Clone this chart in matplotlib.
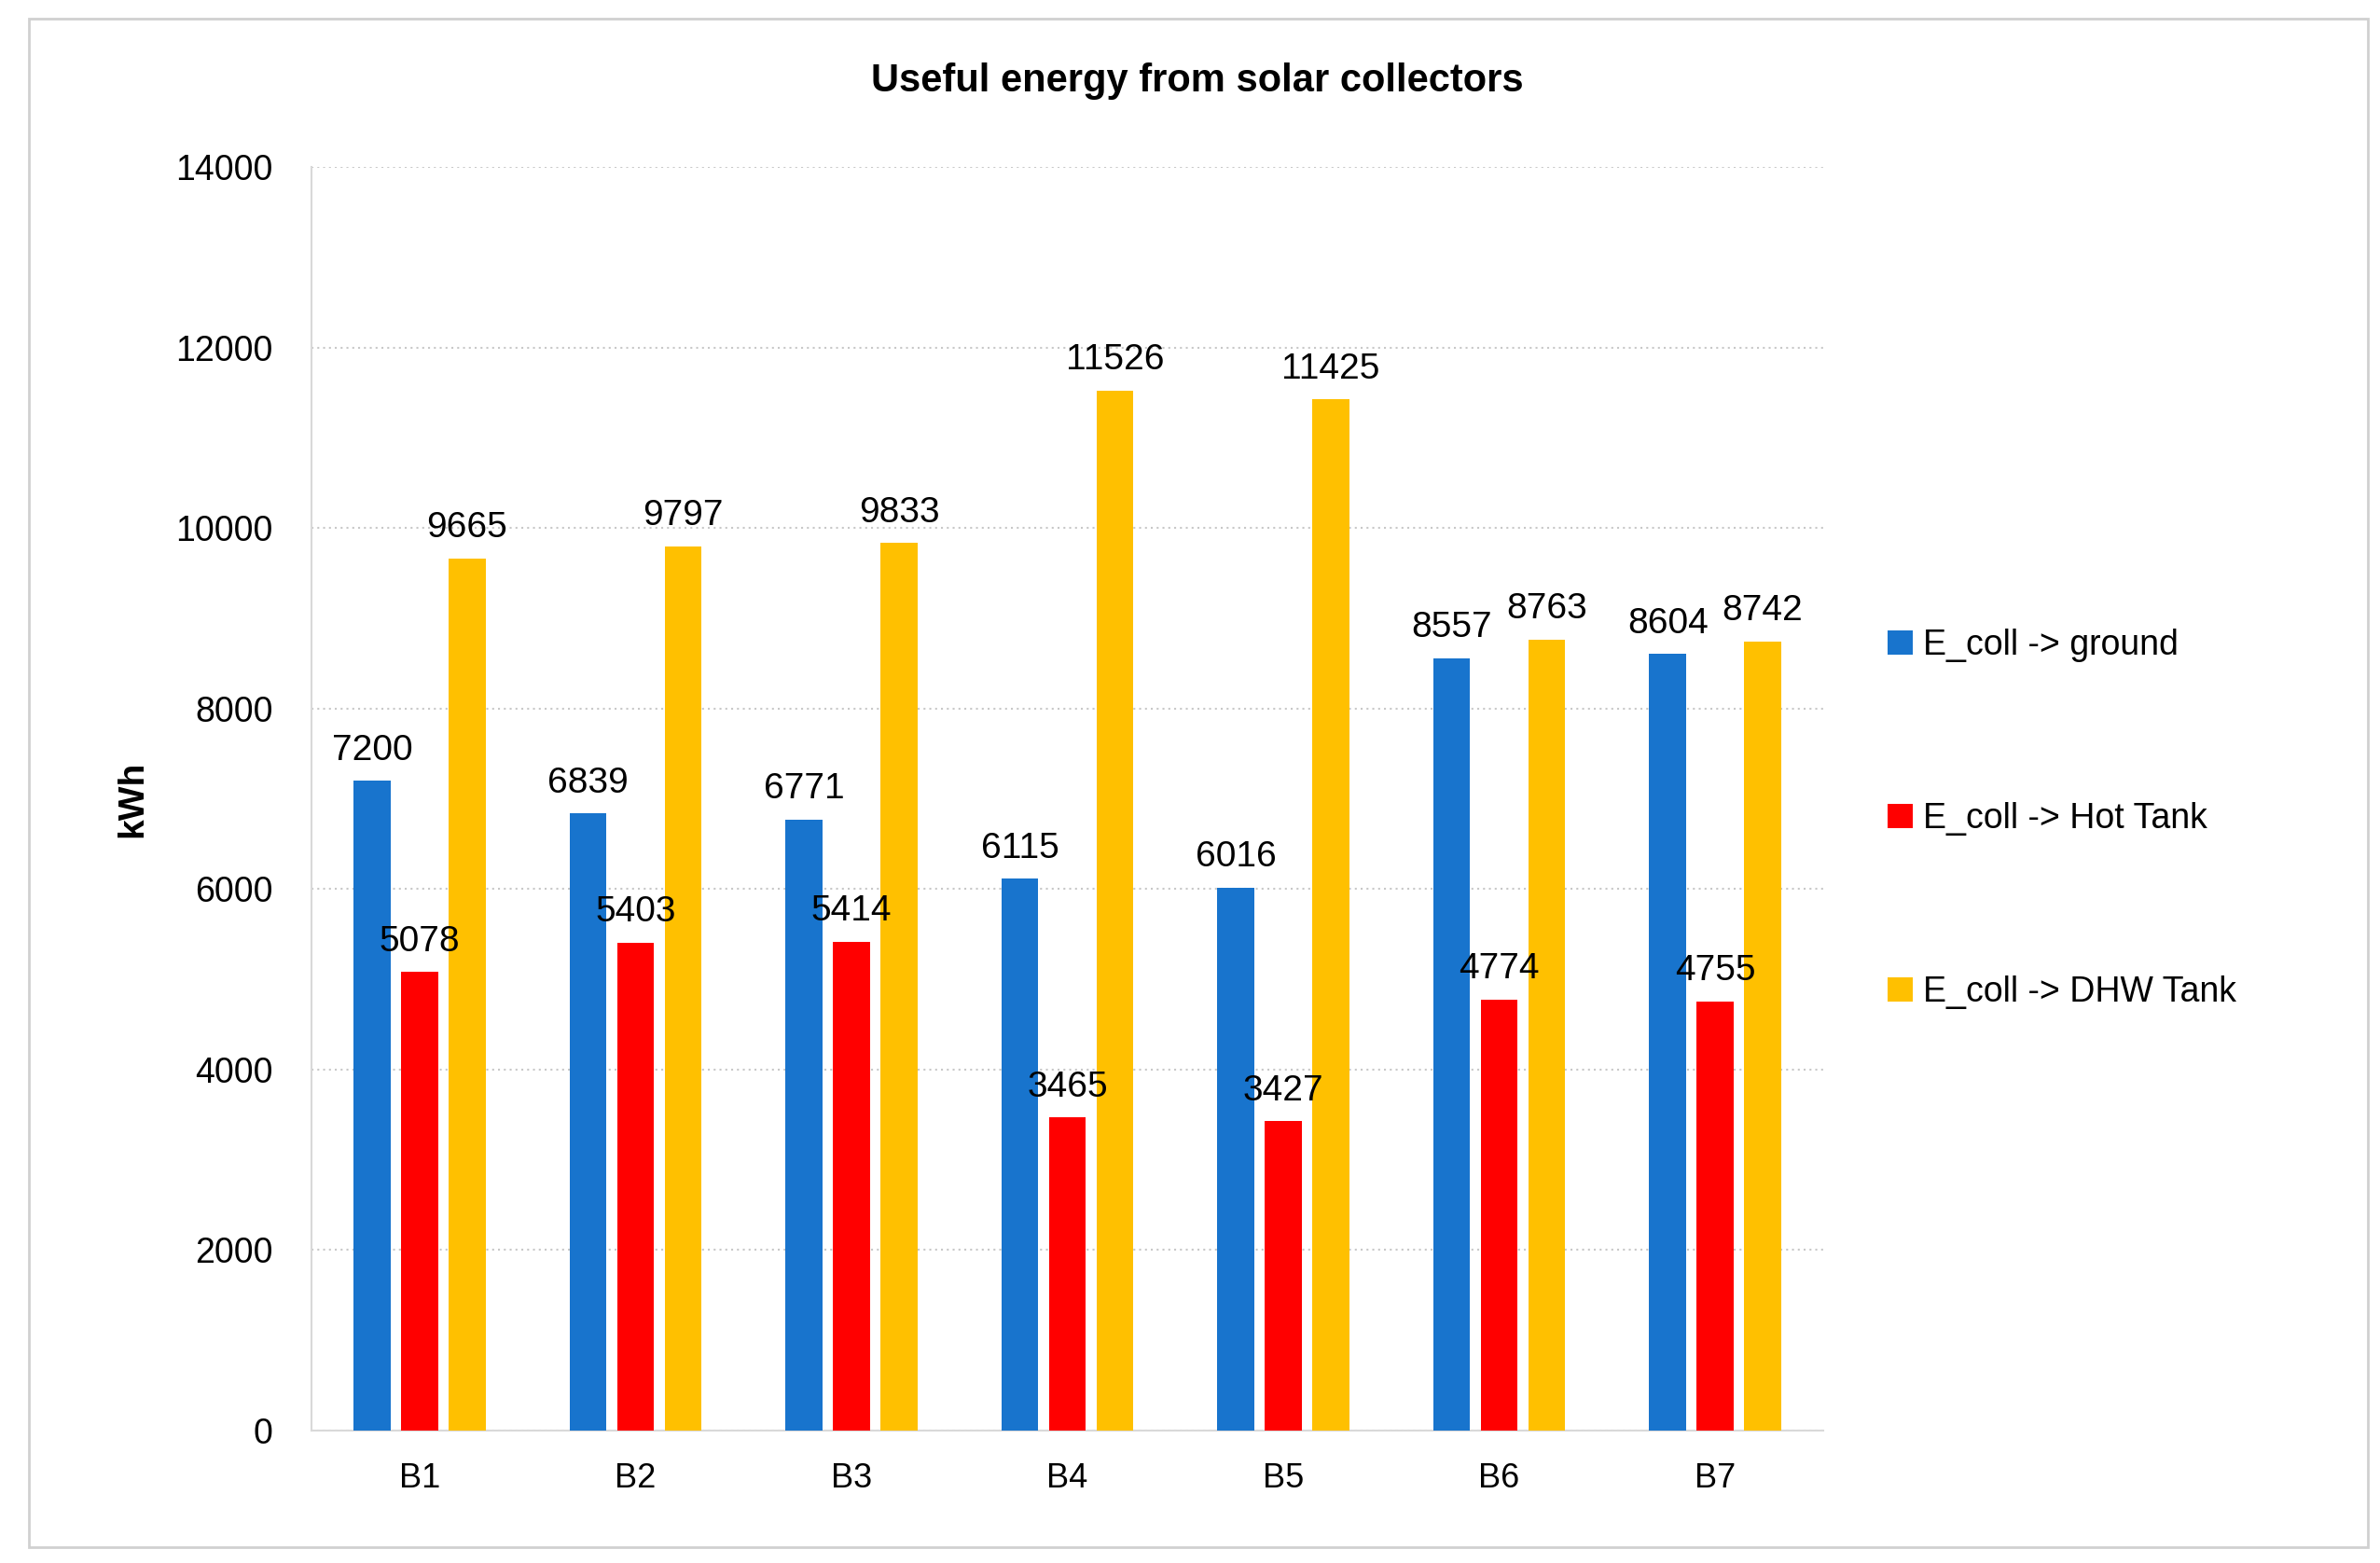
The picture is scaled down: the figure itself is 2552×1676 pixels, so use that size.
import numpy as np
import matplotlib.pyplot as plt
from matplotlib.patches import Rectangle

categories = ["B1", "B2", "B3", "B4", "B5", "B6", "B7"]
ground = [7200, 6839, 6771, 6115, 6016, 8557, 8604]
hot_tank = [5078, 5403, 5414, 3465, 3427, 4774, 4755]
dhw_tank = [9665, 9797, 9833, 11526, 11425, 8763, 8742]
series_names = ["E_coll -> ground", "E_coll -> Hot Tank", "E_coll -> DHW Tank"]
colors = ["#1874CD", "#FF0000", "#FFC000"]

plt.rcParams["font.family"] = "Liberation Sans"

fig = plt.figure(figsize=(25.52, 16.76), dpi=100)
ax = fig.add_axes([0.131, 0.085, 0.635, 0.808])

# outer frame like the exported chart area
fig.patches.append(Rectangle((0.012, 0.01), 0.983, 0.978, transform=fig.transFigure,
                             fill=False, edgecolor="#D0D0D0", linewidth=2))

x = np.arange(len(categories))
width = 0.17
offset = 0.22
for i, (vals, name, c) in enumerate(zip([ground, hot_tank, dhw_tank], series_names, colors)):
    pos = x + (i - 1) * offset
    ax.bar(pos, vals, width, color=c, label=name, zorder=3)
    for p, v in zip(pos, vals):
        ax.text(p, v + 150, str(v), ha="center", va="bottom", fontsize=28, zorder=4)

ax.set_xlim(-0.5, len(categories) - 0.5)
ax.set_ylim(0, 14000)
ax.set_yticks(range(0, 14001, 2000))
ax.set_xticks(x)
ax.set_xticklabels(categories, fontsize=26)
ax.tick_params(axis="y", labelsize=27, length=0, pad=30)
ax.tick_params(axis="x", length=0, pad=25)
ax.grid(axis="y", color="#C8C8C8", linestyle=(0, (1, 2)), linewidth=1.5, zorder=0)
for s in ["top", "right"]:
    ax.spines[s].set_visible(False)
ax.spines["left"].set_color("#D9D9D9")
ax.spines["bottom"].set_color("#D9D9D9")
ax.spines["left"].set_linewidth(1.5)
ax.spines["bottom"].set_linewidth(1.5)
ax.set_ylabel("kWh", fontsize=28, fontweight="bold", labelpad=20)

fig.text(0.503, 0.948, "Useful energy from solar collectors", ha="center", va="center",
         fontsize=30, fontweight="bold")

fig.legend(loc="center left", bbox_to_anchor=(0.78, 0.476), frameon=False, fontsize=27,
           handlelength=0.7, handleheight=0.7, handletextpad=0.3, labelspacing=4.0)

fig.savefig("out.png", dpi=100)
